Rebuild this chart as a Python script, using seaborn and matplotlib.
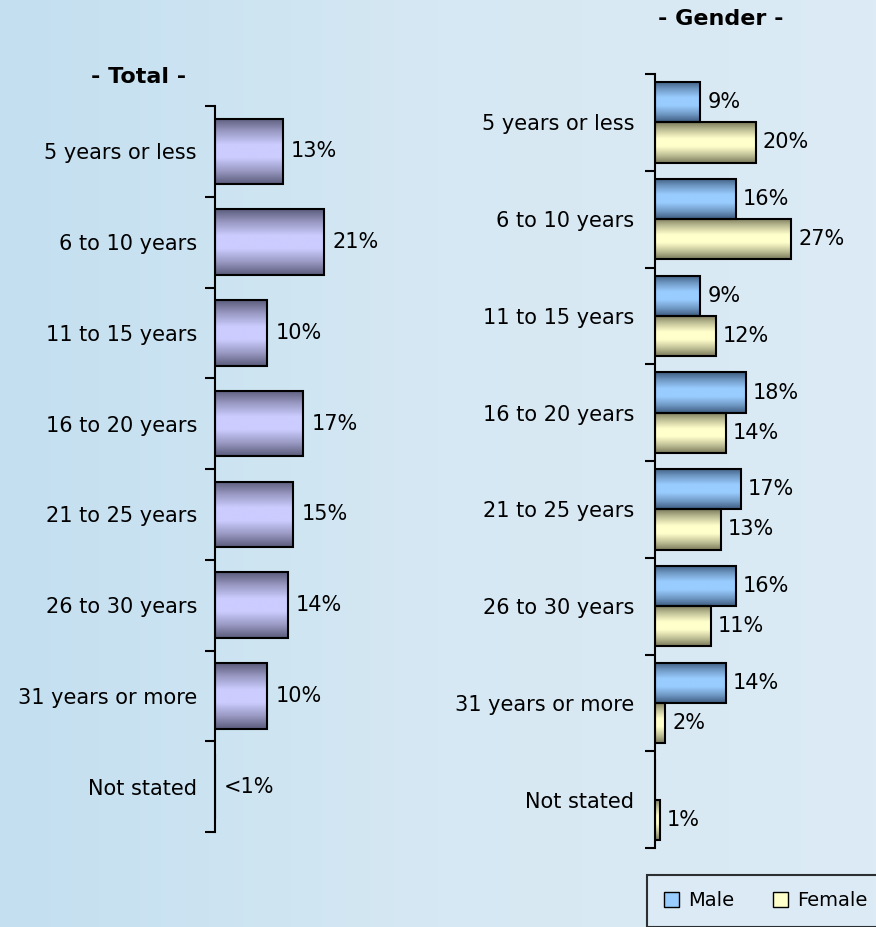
# Recreation of the "years" bar chart: total on the left, by gender on the right.
import numpy as np
import pandas as pd
import seaborn as sns
import matplotlib.pyplot as plt
from matplotlib.colors import LinearSegmentedColormap
from matplotlib.patches import Patch, Rectangle

# Data
periods = ['5 years or less', '6 to 10 years', '11 to 15 years', '16 to 20 years',
           '21 to 25 years', '26 to 30 years', '31 years or more', 'Not stated']
total_pct = [13, 21, 10, 17, 15, 14, 10, 0]
total_labels = ['13%', '21%', '10%', '17%', '15%', '14%', '10%', '<1%']
male_pct = [9, 16, 9, 18, 17, 16, 14, 0]
female_pct = [20, 27, 12, 14, 13, 11, 2, 1]

sns.set_theme(style='white')
plt.rcParams['font.family'] = ['DejaVu Sans']
plt.rcParams['text.color'] = 'black'

FS = 15

total_df = pd.DataFrame({'period': periods, 'pct': total_pct})
gender_df = pd.DataFrame({
    'period': periods * 2,
    'gender': ['Male'] * len(periods) + ['Female'] * len(periods),
    'pct': male_pct + female_pct,
})

fig = plt.figure(figsize=(8.76, 9.27), dpi=100)

# background gradient over the whole figure
bg = fig.add_axes([0, 0, 1, 1], zorder=-10)
bg_cmap = LinearSegmentedColormap.from_list('bg', ['#c3dff0', '#d6e8f3', '#dcebf5'])
bg.imshow(np.linspace(0, 1, 256)[None, :], cmap=bg_cmap, aspect='auto', extent=[0, 1, 0, 1])
bg.set_axis_off()

ax1 = fig.add_axes([215 / 876, 95 / 927, 200 / 876, 726 / 927])
ax2 = fig.add_axes([655 / 876, 79 / 927, 221 / 876, 774 / 927])

sns.barplot(data=total_df, y='period', x='pct', orient='h', color='#ccccff', saturation=1,
            edgecolor='black', linewidth=1.5, width=0.72, ax=ax1)
sns.barplot(data=gender_df, y='period', x='pct', hue='gender', orient='h', saturation=1,
            palette={'Male': '#99ccff', 'Female': '#ffffcc'}, edgecolor='black',
            linewidth=1.5, width=0.83, ax=ax2, legend=False)

grad_maps = {
    '#ccccff': LinearSegmentedColormap.from_list('g1', ['#5c5c7c', '#9a9ac4', '#ccccff', '#ccccff', '#9a9ac4', '#5c5c7c']),
    '#99ccff': LinearSegmentedColormap.from_list('g2', ['#3e5c80', '#729cc8', '#99ccff', '#99ccff', '#729cc8', '#3e5c80']),
    '#ffffcc': LinearSegmentedColormap.from_list('g3', ['#7a7a5c', '#c4c49a', '#ffffcc', '#ffffcc', '#c4c49a', '#7a7a5c']),
}


def shade_bars(ax):
    # paint a vertical gradient inside every bar, keep the black edge on top
    grad = np.linspace(0, 1, 128)[:, None]
    for p in list(ax.patches):
        if not isinstance(p, Rectangle) or p.get_width() <= 0:
            continue
        fc = p.get_facecolor()
        hexc = '#%02x%02x%02x' % tuple(int(round(c * 255)) for c in fc[:3])
        cmap = grad_maps.get(hexc, grad_maps['#ccccff'])
        x0, y0 = p.get_x(), p.get_y()
        w, h = p.get_width(), p.get_height()
        im = ax.imshow(grad, cmap=cmap, aspect='auto', extent=[x0, x0 + w, y0 + h, y0],
                       zorder=p.get_zorder() - 0.1, interpolation='bicubic')
        im.set_clip_path(p)
        p.set_facecolor('none')


shade_bars(ax1)
shade_bars(ax2)

# value labels
ax1.bar_label(ax1.containers[0], labels=total_labels, padding=6, fontsize=FS, color='black')
for cont, vals in zip(ax2.containers, [male_pct, female_pct]):
    ax2.bar_label(cont, labels=[f'{v}%' if v > 0 else '' for v in vals], padding=5,
                  fontsize=FS, color='black')

for ax, xmax, pad in [(ax1, 38.5, 13), (ax2, 43.8, 15)]:
    ax.set_xlim(0, xmax)
    ax.set_ylim(len(periods) - 0.5, -0.5)
    ax.patch.set_alpha(0)
    for s in ['top', 'right', 'bottom']:
        ax.spines[s].set_visible(False)
    ax.spines['left'].set_color('black')
    ax.spines['left'].set_linewidth(1.5)
    ax.set_xticks([])
    ax.set_xlabel('')
    ax.set_ylabel('')
    ax.set_yticks(range(len(periods)))
    ax.set_yticklabels(periods, fontsize=FS, color='black')
    ax.set_yticks(np.arange(-0.5, len(periods), 1), minor=True)
    ax.tick_params(axis='y', which='major', length=0, pad=pad)
    ax.tick_params(axis='y', which='minor', left=True, length=7, width=1.5, color='black')

fig.text(139 / 876, 1 - 77 / 927, '- Total -', ha='center', va='center',
         fontsize=16, fontweight='bold', color='black')
fig.text(721 / 876, 1 - 19 / 927, '- Gender -', ha='center', va='center',
         fontsize=16, fontweight='bold', color='black')

handles = [Patch(facecolor='#99ccff', edgecolor='black', label='Male'),
           Patch(facecolor='#ffffcc', edgecolor='black', label='Female')]
leg = fig.legend(handles=handles, loc='lower left', bbox_to_anchor=(647 / 876, 0.0),
                 ncol=2, fontsize=14, frameon=True, fancybox=False, handlelength=0.8,
                 handleheight=0.8, columnspacing=2.0, handletextpad=0.45,
                 borderpad=0.85, borderaxespad=0)
leg.get_frame().set_edgecolor('black')
leg.get_frame().set_linewidth(1.5)
leg.get_frame().set_facecolor('#dcebf5')

plt.savefig('out.png', dpi=100)
